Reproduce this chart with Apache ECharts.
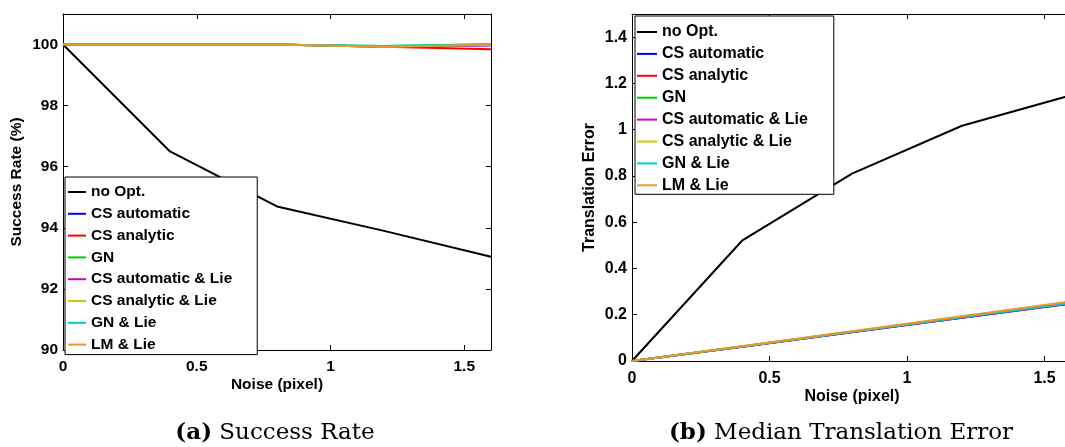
<!DOCTYPE html>
<html>
<head>
<meta charset="utf-8">
<script src="https://cdn.jsdelivr.net/npm/echarts@6/dist/echarts.min.js"></script>
<style>
html,body{margin:0;padding:0;background:#fff;overflow:hidden;}
#c{width:1080px;height:447px;}
</style>
</head>
<body>
<div id="c"></div>
<script>
// ---- data ----
const noise = [0, 0.4, 0.8, 1.2, 1.6];
const seriesNames = ['no Opt.', 'CS automatic', 'CS analytic', 'GN', 'CS automatic & Lie', 'CS analytic & Lie', 'GN & Lie', 'LM & Lie'];
const seriesColors = ['#000000', '#0000ff', '#ff0000', '#00cc00', '#cc00cc', '#cccc00', '#00cccc', '#e69a28'];

// Success rate (%)
const srNoOpt          = [100, 96.5, 94.7, 93.9, 93.05];
const srCsAutomatic    = [100, 100, 100, 99.93, 99.98];
const srCsAnalytic     = [100, 100, 100, 99.93, 99.85];
const srGN             = [100, 100, 99.99, 99.95, 100.01];
const srCsAutomaticLie = [100, 100, 100, 99.94, 99.98];
const srCsAnalyticLie  = [100, 100, 100, 99.93, 99.99];
const srGNLie          = [100, 100, 99.99, 99.95, 100.01];
const srLMLie          = [100, 100, 100, 99.93, 99.99];

// Median translation error
const teNoOpt          = [0, 0.52, 0.81, 1.017, 1.15];
const teCsAutomatic    = [0, 0.062, 0.124, 0.187, 0.249];
const teCsAnalytic     = [0, 0.063, 0.126, 0.19, 0.253];
const teGN             = [0, 0.062, 0.125, 0.188, 0.251];
const teCsAutomaticLie = [0, 0.062, 0.125, 0.187, 0.25];
const teCsAnalyticLie  = [0, 0.064, 0.128, 0.192, 0.256];
const teGNLie          = [0, 0.063, 0.126, 0.189, 0.252];
const teLMLie          = [0, 0.064, 0.129, 0.193, 0.258];

const xTicks = [0, 0.5, 1, 1.5];
const srTicks = [90, 92, 94, 96, 98, 100];
const teTicks = [0, 0.2, 0.4, 0.6, 0.8, 1, 1.2, 1.4];

const captionA = ['(a)', 'Success Rate'];
const captionB = ['(b)', 'Median Translation Error'];
const xName = 'Noise (pixel)';
const yNameA = 'Success Rate (%)';
const yNameB = 'Translation Error';

const srData = [srNoOpt, srCsAutomatic, srCsAnalytic, srGN, srCsAutomaticLie, srCsAnalyticLie, srGNLie, srLMLie];
const teData = [teNoOpt, teCsAutomatic, teCsAnalytic, teGN, teCsAutomaticLie, teCsAnalyticLie, teGNLie, teLMLie];

// ---- chart ----
const FONT = 'Liberation Sans';
const chart = echarts.init(document.getElementById('c'), null, {renderer: 'canvas'});

function fmt(v) { return String(Math.round(v * 10) / 10); }

function mainX(gi, fs, margin, gap) {
  return {
    type: 'value', gridIndex: gi, position: 'bottom', min: 0, max: 1.6, interval: 0.5,
    axisLine: {show: true, onZero: false, lineStyle: {color: '#000', width: 1}},
    axisTick: {show: true, inside: true, length: 5, lineStyle: {color: '#000'}},
    axisLabel: {show: true, showMaxLabel: false, showMinLabel: true, margin: margin, color: '#000',
      fontFamily: FONT, fontWeight: 'bold', fontSize: fs, formatter: fmt},
    splitLine: {show: false},
    name: xName, nameLocation: 'middle', nameGap: gap, nameMoveOverlap: false,
    nameTextStyle: {color: '#000', fontFamily: FONT, fontWeight: 'bold', fontSize: fs}
  };
}
function boxX(gi) {
  return {
    type: 'value', gridIndex: gi, position: 'top', min: 0, max: 1.6, interval: 0.5,
    axisLine: {show: true, onZero: false, lineStyle: {color: '#000', width: 1}},
    axisTick: {show: true, inside: true, length: 5, lineStyle: {color: '#000'}},
    axisLabel: {show: false}, splitLine: {show: false}
  };
}
function mainY(gi, min, max, interval, fs, name, gap) {
  return {
    type: 'value', gridIndex: gi, position: 'left', min: min, max: max, interval: interval,
    axisLine: {show: true, onZero: false, lineStyle: {color: '#000', width: 1}},
    axisTick: {show: true, inside: true, length: 5, lineStyle: {color: '#000'}},
    axisLabel: {show: true, showMaxLabel: false, margin: 5, color: '#000',
      fontFamily: FONT, fontWeight: 'bold', fontSize: fs, formatter: fmt},
    splitLine: {show: false},
    name: name, nameLocation: 'middle', nameGap: gap, nameMoveOverlap: false,
    nameTextStyle: {color: '#000', fontFamily: FONT, fontWeight: 'bold', fontSize: fs}
  };
}
function boxY(gi, min, max, interval) {
  return {
    type: 'value', gridIndex: gi, position: 'right', min: min, max: max, interval: interval,
    axisLine: {show: true, onZero: false, lineStyle: {color: '#000', width: 1}},
    axisTick: {show: true, inside: true, length: 5, lineStyle: {color: '#000'}},
    axisLabel: {show: false}, splitLine: {show: false}
  };
}

const series = [];
seriesNames.forEach((n, i) => {
  series.push({
    name: n, type: 'line', xAxisIndex: 0, yAxisIndex: 0, symbol: 'none',
    color: seriesColors[i], lineStyle: {color: seriesColors[i], width: 2},
    data: noise.map((x, k) => [x, srData[i][k]]), z: 3
  });
});
seriesNames.forEach((n, i) => {
  series.push({
    name: n, type: 'line', xAxisIndex: 2, yAxisIndex: 2, symbol: 'none',
    color: seriesColors[i], lineStyle: {color: seriesColors[i], width: 2},
    data: noise.map((x, k) => [x, teData[i][k]]), z: 3
  });
});

function legend(left, top, fs, iw, gap, pad) {
  return {
    show: true, orient: 'vertical', left: left, top: top, data: seriesNames,
    icon: 'rect', itemWidth: iw, itemHeight: 2, itemGap: gap,
    padding: pad, backgroundColor: '#fff', borderColor: '#000', borderWidth: 1, borderRadius: 0,
    selectedMode: false, z: 10,
    textStyle: {color: '#000', fontFamily: FONT, fontWeight: 'bold', fontSize: fs}
  };
}

chart.setOption({
  animation: false,
  backgroundColor: '#fff',
  grid: [
    {left: 63, top: 14, width: 428, height: 336, outerBoundsMode: 'none', containLabel: false, show: false},
    {left: 632, top: 14, width: 440, height: 347, outerBoundsMode: 'none', containLabel: false, show: false}
  ],
  xAxis: [mainX(0, 15.5, 9, 27), boxX(0), mainX(1, 16, 10, 28), boxX(1)],
  yAxis: [mainY(0, 90, 101, 2, 15.5, yNameA, 38), boxY(0, 90, 101, 2),
          mainY(1, 0, 1.5, 0.2, 16, yNameB, 34), boxY(1, 0, 1.5, 0.2)],
  legend: [
    legend(65, 177, 15.5, 18, 5.8, [7, 25, 2, 3]),
    legend(635, 16, 16, 20, 5.9, [8, 26, 1, 2])
  ],
  series: series,
  graphic: [
    {type: 'text', x: 275, y: 433, z: 100, style: {
      text: '{b|' + captionA[0] + '} ' + captionA[1], textAlign: 'center', textVerticalAlign: 'middle',
      fontFamily: 'DejaVu Serif', fontSize: 23, fill: '#000',
      rich: {b: {fontFamily: 'DejaVu Serif', fontSize: 23, fontWeight: 'bold', fill: '#000'}}
    }},
    {type: 'text', x: 841, y: 433, z: 100, style: {
      text: '{b|' + captionB[0] + '} ' + captionB[1], textAlign: 'center', textVerticalAlign: 'middle',
      fontFamily: 'DejaVu Serif', fontSize: 23, fill: '#000',
      rich: {b: {fontFamily: 'DejaVu Serif', fontSize: 23, fontWeight: 'bold', fill: '#000'}}
    }}
  ]
});
</script>
</body>
</html>
